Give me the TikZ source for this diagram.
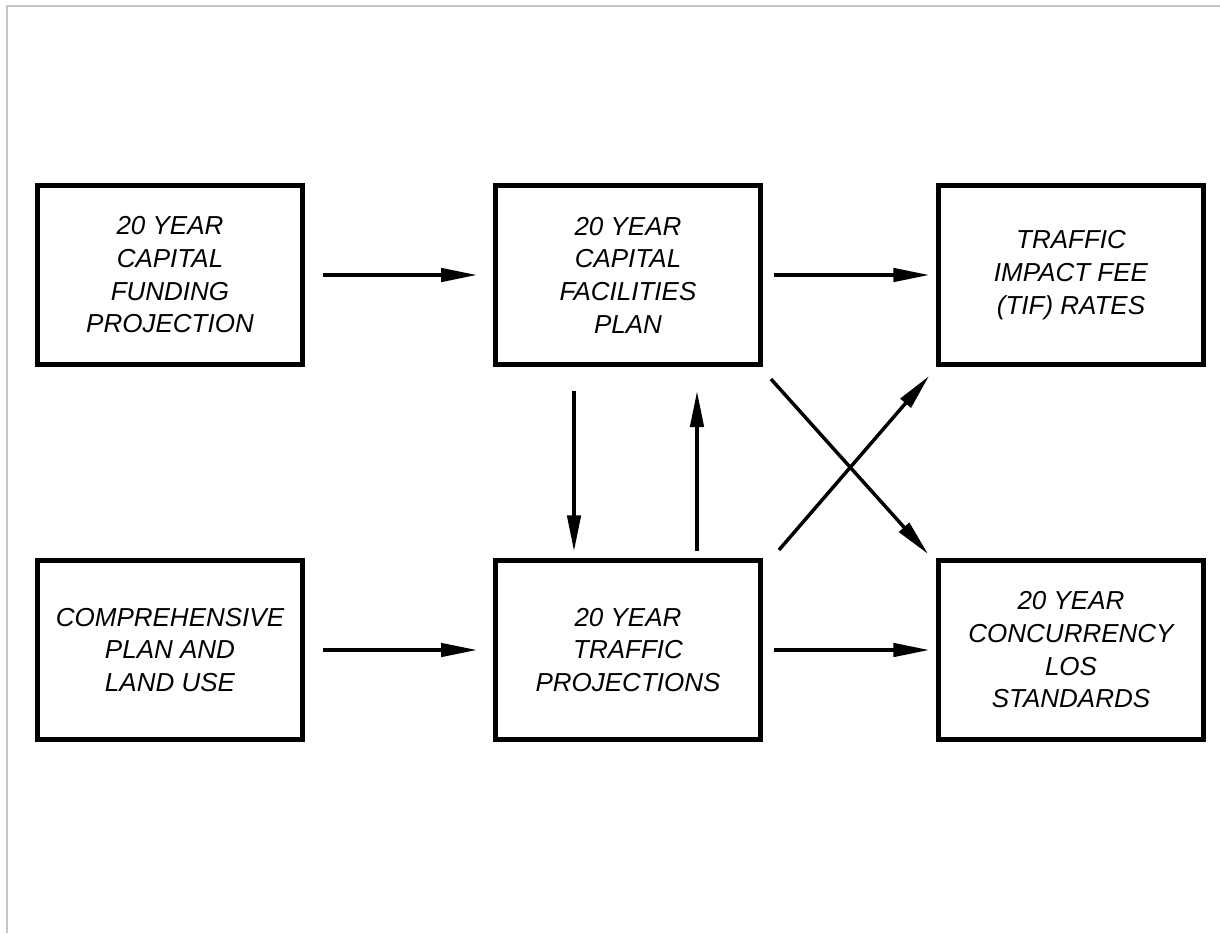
\documentclass[tikz,border=0pt]{standalone}
\usepackage{fontspec}
\setmainfont{Liberation Sans}
\usetikzlibrary{arrows.meta,calc}
\begin{document}
\begin{tikzpicture}[x=0.75pt,y=-0.75pt,
    box/.style={draw,line width=3.4pt,minimum width=199pt,minimum height=134.6pt,
      align=center,inner sep=0pt,font=\fontsize{19.5}{24.5}\selectfont\itshape},
    flow/.style={-{Triangle[length=27pt,width=10pt]},line width=2.6pt}]
      \useasboundingbox (0,0) rectangle (1220,933);
      \draw[gray!45,line width=1.5pt] (7,933) -- (7,6) -- (1220,6);
      \node[box] (fund) at (170,275) {20 YEAR\\CAPITAL\\FUNDING\\PROJECTION};
      \node[box] (cfp) at (628,275) {20 YEAR\\CAPITAL\\FACILITIES\\PLAN};
      \node[box] (tif) at (1071,275) {TRAFFIC\\IMPACT FEE\\(TIF) RATES};
      \node[box] (comp) at (170,650) {COMPREHENSIVE\\PLAN AND\\LAND USE};
      \node[box] (traffic) at (628,650) {20 YEAR\\TRAFFIC\\PROJECTIONS};
      \node[box] (los) at (1071,650) {20 YEAR\\CONCURRENCY\\LOS\\STANDARDS};
      \draw[flow,shorten <=13.5pt,shorten >=12pt] (fund) -- (cfp);
      \draw[flow,shorten <=8pt,shorten >=5pt] (cfp) -- (tif);
      \draw[flow,shorten <=13.5pt,shorten >=12pt] (comp) -- (traffic);
      \draw[flow,shorten <=8pt,shorten >=5pt] (traffic) -- (los);
      \draw[flow,shorten <=18pt,shorten >=5pt] ($(cfp.south)+(-54,0)$) -- ($(traffic.north)+(-54,0)$);
      \draw[flow,shorten <=5pt,shorten >=18pt] ($(traffic.north)+(69,0)$) -- ($(cfp.south)+(69,0)$);
      \draw[flow] ($(cfp.south east)+(8,12)$) -- ($(los.north west)+(-8,-4)$);
      \draw[flow] ($(traffic.north east)+(16,-8)$) -- ($(tif.south west)+(-7,9)$);
\end{tikzpicture}
\end{document}
